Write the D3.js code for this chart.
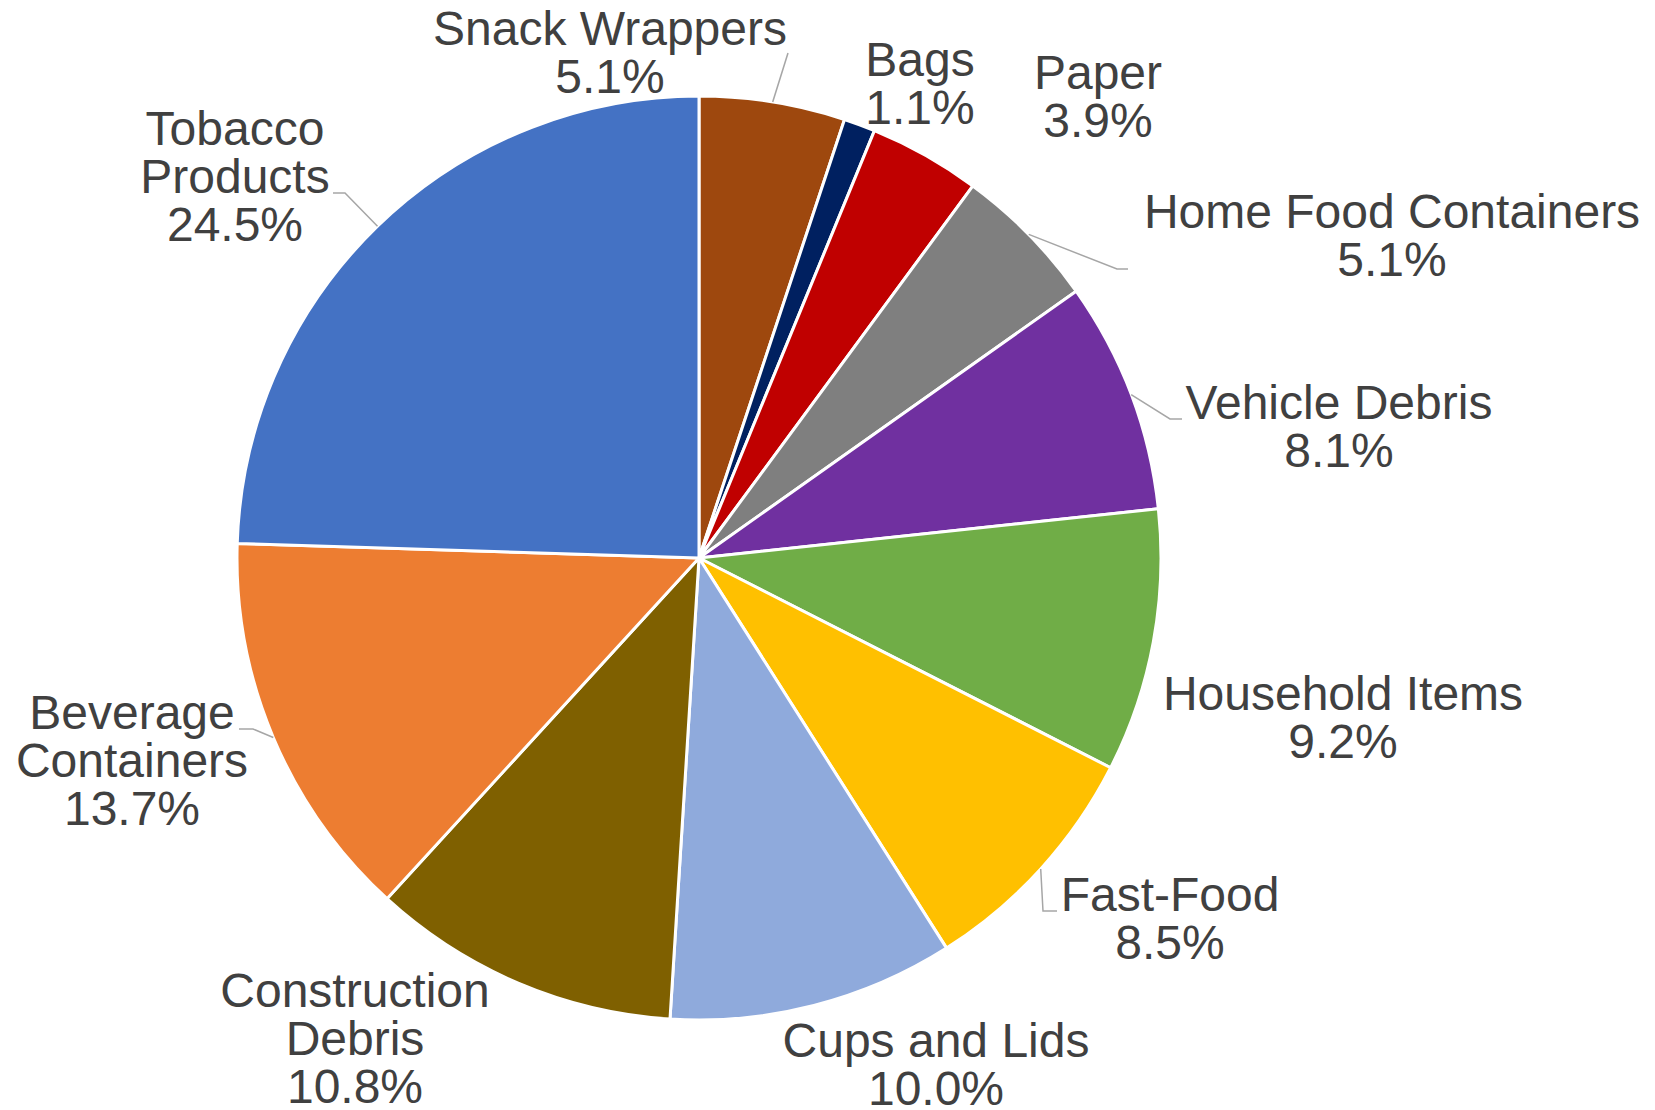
<!DOCTYPE html>
<html>
<head>
<meta charset="utf-8">
<script src="https://cdn.jsdelivr.net/npm/d3@7"></script>
<style>
  html, body { margin: 0; padding: 0; background: #ffffff; }
  svg { display: block; }
  .label { font-family: "Liberation Sans", Arial, Helvetica, sans-serif; font-size: 48px; fill: #404040; }
</style>
</head>
<body>
<svg id="chart" width="1655" height="1110"></svg>
<script>
// Litter composition by category (percent of items)
const categories = [
  "Snack Wrappers", "Bags", "Paper", "Home Food Containers", "Vehicle Debris",
  "Household Items", "Fast-Food", "Cups and Lids", "Construction Debris",
  "Beverage Containers", "Tobacco Products"
];
const shares = [5.1, 1.1, 3.9, 5.1, 8.1, 9.2, 8.5, 10.0, 10.8, 13.7, 24.5];
const sliceColors = [
  "#9E480E", "#002060", "#C00000", "#7F7F7F", "#7030A0",
  "#70AD47", "#FFC000", "#8FAADC", "#7F6000", "#ED7D31", "#4472C4"
];
// How each category name wraps onto lines
const labelLines = [
  ["Snack Wrappers"], ["Bags"], ["Paper"], ["Home Food Containers"], ["Vehicle Debris"],
  ["Household Items"], ["Fast-Food"], ["Cups and Lids"], ["Construction", "Debris"],
  ["Beverage", "Containers"], ["Tobacco", "Products"]
];

// Label placement: centre x and first baseline; optional leader path waypoints
const labelLayout = [
  { x: 610,  y: 45,   leader: [[788, 53]] },
  { x: 920,  y: 76 },
  { x: 1098, y: 89 },
  { x: 1392, y: 228,  leader: [[1117, 269], [1128, 269]] },
  { x: 1339, y: 419,  leader: [[1170, 419], [1182, 419]] },
  { x: 1343, y: 710 },
  { x: 1170, y: 911,  leader: [[1043, 911], [1057, 911]] },
  { x: 936,  y: 1057 },
  { x: 355,  y: 1007 },
  { x: 132,  y: 729,  leader: [[253, 729], [239, 729]] },
  { x: 235,  y: 145,  leader: [[345, 193], [333, 193]] }
];

const cx = 699, cy = 558, radius = 462, lineHeight = 48;

const data = categories.map((name, i) => ({
  name, value: shares[i], color: sliceColors[i], lines: labelLines[i], layout: labelLayout[i]
}));

const svg = d3.select("#chart");
const g = svg.append("g").attr("transform", `translate(${cx},${cy})`);

const pie = d3.pie().sort(null).value(d => d.value).startAngle(0).endAngle(2 * Math.PI);
const arc = d3.arc().innerRadius(0).outerRadius(radius);
const arcs = pie(data);

g.selectAll("path.slice")
  .data(arcs)
  .join("path")
  .attr("class", "slice")
  .attr("d", arc)
  .attr("fill", d => d.data.color)
  .attr("stroke", "#ffffff")
  .attr("stroke-width", 3)
  .attr("stroke-linejoin", "round");

// Leader lines start at the slice's outer edge, at its middle angle
const line = d3.line();
svg.selectAll("path.leader")
  .data(arcs.filter(d => d.data.layout.leader))
  .join("path")
  .attr("class", "leader")
  .attr("d", d => {
    const a = (d.startAngle + d.endAngle) / 2;
    const start = [cx + radius * Math.sin(a), cy - radius * Math.cos(a)];
    return line([start, ...d.data.layout.leader]);
  })
  .attr("fill", "none")
  .attr("stroke", "#A6A6A6")
  .attr("stroke-width", 1.5);

const fmt = d3.format(".1f");
const labels = svg.selectAll("text.label")
  .data(arcs)
  .join("text")
  .attr("class", "label")
  .attr("text-anchor", "middle");

labels.each(function(d) {
  const t = d3.select(this);
  const L = d.data.layout;
  const rows = [...d.data.lines, fmt(d.data.value) + "%"];
  rows.forEach((r, i) => {
    t.append("tspan").attr("x", L.x).attr("y", L.y + i * lineHeight).text(r);
  });
});
</script>
</body>
</html>
